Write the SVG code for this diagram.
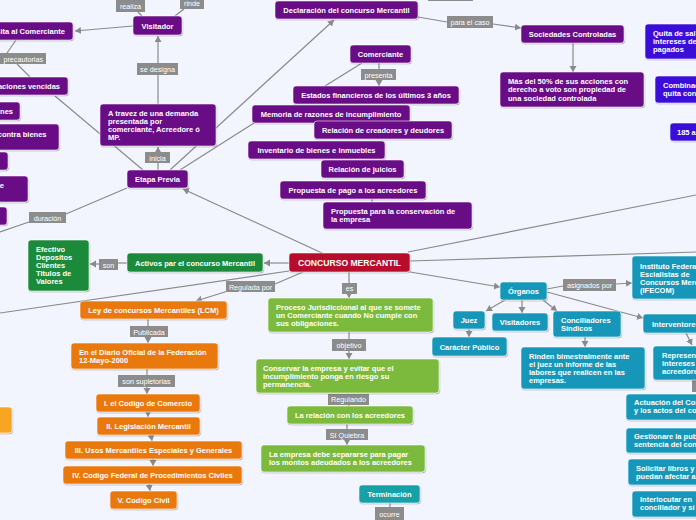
<svg xmlns="http://www.w3.org/2000/svg" width="696" height="520" viewBox="0 0 696 520">
<defs>
<filter id="sh" x="-10%" y="-20%" width="120%" height="150%">
<feDropShadow dx="0.6" dy="1" stdDeviation="0.6" flood-color="#000" flood-opacity="0.3"/>
</filter>
<marker id="ar" markerUnits="userSpaceOnUse" markerWidth="8" markerHeight="8" refX="6" refY="3.5" orient="auto">
<path d="M0,0 L6,3.5 L0,7 Z" fill="#8a8a8a"/>
</marker>
</defs>
<style>
.n{filter:url(#sh);stroke:#ffffff;stroke-opacity:0.7;stroke-width:0.8}
.p{fill:#690b86}
.b{fill:#3a10d9}
.r{fill:#b8092c}
.g{fill:#1e8a3b}
.lg{fill:#7cba3d}
.o{fill:#ea7911}
.lo{fill:#f8a622}
.t{fill:#1597b9}
.tc{fill:#17a0a8}
.l{fill:#8c8c8c}
text{font-family:"Liberation Sans",Arial,sans-serif}
.tx{fill:#ffffff;font-size:7.5px;font-weight:bold}
.c{text-anchor:middle}
.e{text-anchor:end}
.lt{fill:#ffffff;font-size:7.2px;text-anchor:middle}
.big{font-size:8.6px}
.k{stroke:#8a8a8a;stroke-width:1.2;fill:none}
</style>
<rect x="0" y="0" width="696" height="520" fill="#f2f5fd"/>
<g id="connectors">
<path class="k" d="M133,26 L75,31" marker-end="url(#ar)"/>
<path class="k" d="M138,12 L142,16"/>
<path class="k" d="M184,9 L175,16"/>
<path class="k" d="M158,104 L158,75"/>
<path class="k" d="M158,63 L158,36" marker-end="url(#ar)"/>
<path class="k" d="M158,170 L158,163"/>
<path class="k" d="M158,152 L158,147" marker-end="url(#ar)"/>
<path class="k" d="M143,170 L55,96"/>
<path class="k" d="M16,40 L7,53"/>
<path class="k" d="M17,64 L30,77"/>
<path class="k" d="M170,170 L334,20" marker-end="url(#ar)"/>
<path class="k" d="M180,170 L254,123"/>
<path class="k" d="M127,188 L66,214"/>
<path class="k" d="M29,222 L0,232"/>
<path class="k" d="M322,253 L183,189" marker-end="url(#ar)"/>
<path class="k" d="M362,63 L325,86"/>
<path class="k" d="M379,63 L379,69"/>
<path class="k" d="M379,80 L379,86" marker-end="url(#ar)"/>
<path class="k" d="M418,17 L447,22"/>
<path class="k" d="M493,24 L521,28" marker-end="url(#ar)"/>
<path class="k" d="M573,43 L573,72" marker-end="url(#ar)"/>
<path class="k" d="M372,199 L372,202"/>
<path class="k" d="M289,263 L264,263" marker-end="url(#ar)"/>
<path class="k" d="M127,263 L118,263"/>
<path class="k" d="M99,264 L90,264" marker-end="url(#ar)"/>
<path class="k" d="M289,271 L0,313"/>
<path class="k" d="M303,272 L275,284"/>
<path class="k" d="M228,291 L196,301" marker-end="url(#ar)"/>
<path class="k" d="M148,319 L148,326"/>
<path class="k" d="M148,337 L148,343" marker-end="url(#ar)"/>
<path class="k" d="M147,369 L147,375"/>
<path class="k" d="M147,387 L147,394" marker-end="url(#ar)"/>
<path class="k" d="M148,412 L148,417" marker-end="url(#ar)"/>
<path class="k" d="M151,435 L152,441" marker-end="url(#ar)"/>
<path class="k" d="M153,459 L153,466" marker-end="url(#ar)"/>
<path class="k" d="M149,484 L150,491" marker-end="url(#ar)"/>
<path class="k" d="M349,272 L349,283"/>
<path class="k" d="M349,294 L349,298" marker-end="url(#ar)"/>
<path class="k" d="M349,332 L349,339"/>
<path class="k" d="M349,351 L349,359" marker-end="url(#ar)"/>
<path class="k" d="M349,405 L349,406"/>
<path class="k" d="M347,424 L347,429"/>
<path class="k" d="M347,440 L347,445" marker-end="url(#ar)"/>
<path class="k" d="M390,503 L390,507"/>
<path class="k" d="M408,252 L696,195"/>
<path class="k" d="M410,261 L696,252"/>
<path class="k" d="M410,272 L500,287" marker-end="url(#ar)"/>
<path class="k" d="M547,289 L563,286"/>
<path class="k" d="M616,284 L632,283" marker-end="url(#ar)"/>
<path class="k" d="M505,300 L486,311" marker-end="url(#ar)"/>
<path class="k" d="M522,300 L522,313" marker-end="url(#ar)"/>
<path class="k" d="M543,300 L557,311" marker-end="url(#ar)"/>
<path class="k" d="M547,292 L643,318" marker-end="url(#ar)"/>
<path class="k" d="M469,329 L469,337" marker-end="url(#ar)"/>
<path class="k" d="M585,337 L585,347" marker-end="url(#ar)"/>
<path class="k" d="M686,333 L692,345" marker-end="url(#ar)"/>
</g>
<g id="labels">
<g id="lb-realiza"><rect class="l" x="116" y="-2" width="29" height="14"/><text class="lt" x="130.5" y="8.5">realiza</text></g>
<g id="lb-rinde"><rect class="l" x="180" y="-4" width="24" height="13"/><text class="lt" x="192" y="5.5">rinde</text></g>
<g id="lb-precautorias"><rect class="l" x="-30" y="53" width="76" height="11"/><text class="lt" x="43" y="61.5" style="text-anchor:end">precautorias</text></g>
<g id="lb-sedesigna"><rect class="l" x="137" y="63" width="41" height="12"/><text class="lt" x="157.5" y="72">se designa</text></g>
<g id="lb-inicia"><rect class="l" x="145" y="152" width="25" height="11"/><text class="lt" x="157.5" y="160.5">inicia</text></g>
<g id="lb-duracion"><rect class="l" x="29" y="212" width="37" height="11"/><text class="lt" x="47.5" y="220.5">duración</text></g>
<g id="lb-paraelcaso"><rect class="l" x="447" y="16" width="46" height="12"/><text class="lt" x="470" y="25">para el caso</text></g>
<g id="lb-presenta"><rect class="l" x="361" y="69" width="35" height="11"/><text class="lt" x="378.5" y="77.5">presenta</text></g>
<g id="lb-top"><rect class="l" x="428" y="-10" width="45" height="11"/></g>
<g id="lb-son"><rect class="l" x="99" y="259" width="19" height="11"/><text class="lt" x="108.5" y="267.5">son</text></g>
<g id="lb-regulada"><rect class="l" x="226" y="281" width="49" height="11"/><text class="lt" x="250.5" y="289.5">Regulada por</text></g>
<g id="lb-publicada"><rect class="l" x="130" y="326" width="38" height="11"/><text class="lt" x="149" y="334.5">Publicada</text></g>
<g id="lb-supletorias"><rect class="l" x="118" y="375" width="57" height="12"/><text class="lt" x="146.5" y="384">son supletorias</text></g>
<g id="lb-es"><rect class="l" x="342" y="283" width="15" height="11"/><text class="lt" x="349.5" y="291">es</text></g>
<g id="lb-objetivo"><rect class="l" x="332" y="339" width="34" height="12"/><text class="lt" x="349" y="348">objetivo</text></g>
<g id="lb-regulando"><rect class="l" x="328" y="394" width="41" height="11"/><text class="lt" x="348.5" y="402">Regulando</text></g>
<g id="lb-siquiebra"><rect class="l" x="326" y="429" width="42" height="11"/><text class="lt" x="347" y="437.5">SI Quiebra</text></g>
<g id="lb-ocurre"><rect class="l" x="375" y="507" width="29" height="14"/><text class="lt" x="389.5" y="516.5">ocurre</text></g>
<g id="lb-asignados"><rect class="l" x="563" y="279" width="53" height="12"/><text class="lt" x="589.5" y="287.5">asignados por</text></g>
<g id="lb-right"><rect class="l" x="692" y="380" width="20" height="12"/></g>
</g>
<g id="n-visita"><rect class="n p" x="-40" y="22" width="113" height="18" rx="3"/><text class="tx e" x="65" y="33.5">Visita al Comerciante</text></g>
<g id="n-visitador"><rect class="n p" x="133" y="16" width="49" height="19" rx="3"/><text class="tx c" x="157.5" y="28.5">Visitador</text></g>
<g id="n-obligaciones"><rect class="n p" x="-40" y="77" width="108" height="18" rx="3"/><text class="tx e" x="60" y="89">Obligaciones vencidas</text></g>
<g id="n-p4"><rect class="n p" x="-60" y="102" width="80" height="18" rx="3"/><text class="tx e" x="13" y="114">nes</text></g>
<g id="n-p5"><rect class="n p" x="-80" y="124" width="139" height="26" rx="3"/><text class="tx e" x="46.5" y="136.5">contra bienes</text></g>
<g id="n-p6"><rect class="n p" x="-60" y="152" width="68" height="18" rx="3"/></g>
<g id="n-p7"><rect class="n p" x="-60" y="176" width="88" height="26" rx="3"/><text class="tx e" x="4" y="188">e</text></g>
<g id="n-p8"><rect class="n p" x="-60" y="207" width="67" height="18" rx="3"/></g>
<g id="n-atravez"><rect class="n p" x="100" y="104" width="116" height="42" rx="3"/><text class="tx" x="108" y="116">A travez de una demanda</text><text class="tx" x="108" y="124">presentada por</text><text class="tx" x="108" y="132">comerciante, Acreedore ó</text><text class="tx" x="108" y="140">MP.</text></g>
<g id="n-etapa"><rect class="n p" x="127" y="170" width="61" height="18" rx="3"/><text class="tx c" x="157.5" y="182">Etapa Previa</text></g>
<g id="n-declaracion"><rect class="n p" x="275" y="1" width="143" height="18" rx="3"/><text class="tx c" x="346.5" y="13">Declaración del concurso Mercantil</text></g>
<g id="n-sociedades"><rect class="n p" x="521" y="25" width="103" height="18" rx="3"/><text class="tx c" x="572.5" y="37">Sociedades Controladas</text></g>
<g id="n-mas50"><rect class="n p" x="500" y="72" width="144" height="35" rx="3"/><text class="tx" x="508" y="84">Más del 50% de sus acciones con</text><text class="tx" x="508" y="92">derecho a voto son propiedad de</text><text class="tx" x="508" y="100.5">una sociedad controlada</text></g>
<g id="n-comerciante"><rect class="n p" x="350" y="45" width="61" height="18" rx="3"/><text class="tx c" x="380.5" y="57">Comerciante</text></g>
<g id="n-estados"><rect class="n p" x="293" y="86" width="166" height="18" rx="3"/><text class="tx c" x="376" y="98">Estados financieros de los últimos 3 años</text></g>
<g id="n-memoria"><rect class="n p" x="252" y="105" width="158" height="18" rx="3"/><text class="tx c" x="331" y="117">Memoria de razones de incumplimiento</text></g>
<g id="n-relacion-cd"><rect class="n p" x="314" y="121" width="138" height="18" rx="3"/><text class="tx c" x="383" y="133">Relación de creadores y deudores</text></g>
<g id="n-inventario"><rect class="n p" x="248" y="141" width="137" height="18" rx="3"/><text class="tx c" x="316.5" y="153">Inventario de bienes e inmuebles</text></g>
<g id="n-juicios"><rect class="n p" x="321" y="160" width="83" height="18" rx="3"/><text class="tx c" x="362.5" y="172">Relación de juicios</text></g>
<g id="n-propuesta-pago"><rect class="n p" x="280" y="181" width="146" height="18" rx="3"/><text class="tx c" x="353" y="193">Propuesta de pago a los acreedores</text></g>
<g id="n-propuesta-cons"><rect class="n p" x="323" y="202" width="149" height="27" rx="3"/><text class="tx" x="331" y="214">Propuesta para la conservación de</text><text class="tx" x="331" y="222">la empresa</text></g>
<g id="n-quita"><rect class="n b" x="645" y="24" width="80" height="35" rx="3"/><text class="tx" x="653" y="36">Quita de sal</text><text class="tx" x="653" y="44">intereses de</text><text class="tx" x="653" y="52">pagados</text></g>
<g id="n-combinac"><rect class="n b" x="655" y="76" width="60" height="27" rx="3"/><text class="tx" x="663" y="87.5">Combinac</text><text class="tx" x="663" y="96">quita con</text></g>
<g id="n-185"><rect class="n b" x="670" y="123" width="40" height="18" rx="3"/><text class="tx" x="677" y="135">185 a</text></g>
<g id="n-activos"><rect class="n g" x="127" y="253" width="136" height="19" rx="3"/><text class="tx c" x="195" y="265.5">Activos par el concurso Mercantil</text></g>
<g id="n-efectivo"><rect class="n g" x="28" y="240" width="61" height="51" rx="3"/><text class="tx" x="36" y="252">Efectivo</text><text class="tx" x="36" y="260">Depositos</text><text class="tx" x="36" y="268">Clientes</text><text class="tx" x="36" y="276">Titulos de</text><text class="tx" x="36" y="284">Valores</text></g>
<g id="n-concurso"><rect class="n r" x="289" y="253" width="121" height="19" rx="3"/><text class="tx c big" x="349.5" y="266">CONCURSO MERCANTIL</text></g>
<g id="n-ley"><rect class="n o" x="80" y="301" width="147" height="18" rx="3"/><text class="tx c" x="153.5" y="313">Ley de concursos Mercantiles (LCM)</text></g>
<g id="n-diario"><rect class="n o" x="71" y="343" width="147" height="26" rx="3"/><text class="tx" x="79" y="355">En el Diario Oficial de la Federación</text><text class="tx" x="79" y="363">12-Mayo-2000</text></g>
<g id="n-codcom"><rect class="n o" x="96" y="394" width="104" height="18" rx="3"/><text class="tx c" x="148" y="406">I. el Codigo de Comercio</text></g>
<g id="n-legis"><rect class="n o" x="97" y="417" width="103" height="18" rx="3"/><text class="tx c" x="148.5" y="429">II. Legislación Mercantil</text></g>
<g id="n-usos"><rect class="n o" x="65" y="441" width="177" height="18" rx="3"/><text class="tx c" x="153.5" y="453">III. Usos Mercantiles Especiales y Generales</text></g>
<g id="n-cfpc"><rect class="n o" x="63" y="466" width="179" height="18" rx="3"/><text class="tx c" x="152.5" y="478">IV. Codigo Federal de Procedimientos Civiles</text></g>
<g id="n-civil"><rect class="n o" x="110" y="491" width="67" height="18" rx="3"/><text class="tx c" x="143.5" y="503">V. Codigo Civil</text></g>
<g id="n-lo"><rect class="n lo" x="-40" y="407" width="52" height="26" rx="3"/></g>
<g id="n-proceso"><rect class="n lg" x="268" y="298" width="165" height="34" rx="3"/><text class="tx" x="276" y="309.5">Proceso Jurisdiccional al que se somete</text><text class="tx" x="276" y="317.5">un Comerciante cuando No cumple con</text><text class="tx" x="276" y="325.5">sus obligaciones.</text></g>
<g id="n-conservar"><rect class="n lg" x="256" y="359" width="183" height="34" rx="3"/><text class="tx" x="263" y="371">Conservar la empresa y evitar que el</text><text class="tx" x="263" y="379">incumplimiento ponga en riesgo su</text><text class="tx" x="263" y="387">permanencia.</text></g>
<g id="n-relacion-acr"><rect class="n lg" x="287" y="406" width="126" height="18" rx="3"/><text class="tx c" x="350" y="418">La relación con los acreedores</text></g>
<g id="n-separarse"><rect class="n lg" x="261" y="445" width="164" height="27" rx="3"/><text class="tx" x="269" y="457">La empresa debe separarse para pagar</text><text class="tx" x="269" y="465">los montos adeudados a los acreedores</text></g>
<g id="n-terminacion"><rect class="n tc" x="359" y="485" width="61" height="18" rx="3"/><text class="tx c" x="389.5" y="497">Terminación</text></g>
<g id="n-organos"><rect class="n t" x="500" y="282" width="47" height="18" rx="3"/><text class="tx c" x="523.5" y="294">Órganos</text></g>
<g id="n-ifecom"><rect class="n t" x="632" y="256" width="100" height="43" rx="3"/><text class="tx" x="640" y="269">Instituto Federa</text><text class="tx" x="640" y="277">Escialistas de</text><text class="tx" x="640" y="285">Concursos Merc</text><text class="tx" x="640" y="293">(IFECOM)</text></g>
<g id="n-juez"><rect class="n t" x="453" y="311" width="32" height="18" rx="3"/><text class="tx c" x="469" y="323">Juez</text></g>
<g id="n-visitadores"><rect class="n t" x="492" y="313" width="56" height="18" rx="3"/><text class="tx c" x="520" y="325">Visitadores</text></g>
<g id="n-conciliadores"><rect class="n t" x="553" y="311" width="68" height="26" rx="3"/><text class="tx" x="561" y="323">Conciliadores</text><text class="tx" x="561" y="331">Síndicos</text></g>
<g id="n-caracter"><rect class="n t" x="432" y="337" width="75" height="19" rx="3"/><text class="tx c" x="469.5" y="349.5">Carácter Público</text></g>
<g id="n-rinden"><rect class="n t" x="521" y="347" width="124" height="42" rx="3"/><text class="tx" x="529" y="359">Rinden bimestralmente ante</text><text class="tx" x="529" y="367">el juez un informe de las</text><text class="tx" x="529" y="375">labores que realicen en las</text><text class="tx" x="529" y="383">empresas.</text></g>
<g id="n-interventores"><rect class="n t" x="643" y="314" width="70" height="19" rx="3"/><text class="tx" x="652" y="326.5">Interventores</text></g>
<g id="n-represen"><rect class="n t" x="653" y="346" width="60" height="34" rx="3"/><text class="tx" x="662" y="357.5">Represen</text><text class="tx" x="662" y="365.5">intereses</text><text class="tx" x="662" y="373.5">acreedore</text></g>
<g id="n-actuacion"><rect class="n t" x="626" y="394" width="80" height="26" rx="3"/><text class="tx" x="634" y="405">Actuación del Con</text><text class="tx" x="634" y="413">y los actos del co</text></g>
<g id="n-gestionare"><rect class="n t" x="626" y="428" width="80" height="25" rx="3"/><text class="tx" x="634" y="439">Gestionare la pub</text><text class="tx" x="634" y="447">sentencia del con</text></g>
<g id="n-solicitar"><rect class="n t" x="628" y="459" width="80" height="26" rx="3"/><text class="tx" x="636" y="471">Solicitar libros y</text><text class="tx" x="636" y="479">puedan afectar a</text></g>
<g id="n-interlocutar"><rect class="n t" x="632" y="491" width="80" height="26" rx="3"/><text class="tx" x="640" y="502">Interlocutar en</text><text class="tx" x="640" y="510">conciliador y sí</text></g>
</svg>
